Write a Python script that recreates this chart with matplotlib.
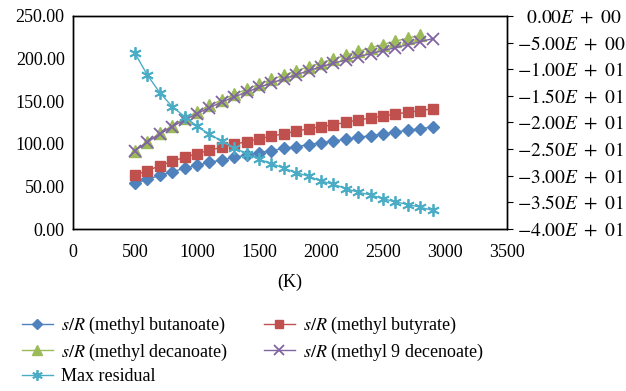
import matplotlib
matplotlib.use('Agg')
import matplotlib.pyplot as plt
from matplotlib.ticker import FuncFormatter

plt.rcParams['font.family'] = 'Liberation Serif'
plt.rcParams['mathtext.fontset'] = 'stix'

# temperatures (K)
temps = [500, 600, 700, 800, 900, 1000, 1100, 1200, 1300, 1400, 1500, 1600,
         1700, 1800, 1900, 2000, 2100, 2200, 2300, 2400, 2500, 2600, 2700, 2800, 2900]

butanoate = [53.6, 58.3, 63.0, 67.3, 71.2, 74.8, 78.3, 81.0, 84.1, 86.9, 89.6, 91.9,
             94.7, 96.6, 99.0, 101.3, 103.3, 105.3, 107.6, 109.5, 111.5, 113.8, 115.8, 117.7, 119.7]
butyrate = [63.4, 68.4, 74.3, 79.5, 84.1, 88.4, 92.4, 95.9, 99.4, 102.5, 106.0, 108.8,
            111.9, 114.7, 117.7, 120.1, 122.4, 125.2, 127.9, 130.3, 132.6, 135.0, 137.0, 138.8, 141.2]
decanoate = [92.0, 102.5, 112.5, 121.0, 130.0, 137.5, 145.0, 151.5, 158.0, 164.0, 170.0, 175.5,
             180.5, 185.5, 190.5, 195.0, 199.5, 204.0, 208.5, 212.5, 216.5, 220.5, 224.0, 227.5]
decenoate = [92.0, 102.0, 111.5, 120.0, 128.0, 135.4, 142.5, 149.0, 155.0, 160.8, 166.3, 171.4,
             176.3, 181.0, 185.8, 190.5, 194.5, 198.4, 202.2, 205.8, 209.3, 212.8, 216.3, 219.8, 223.4]
residual = [-7.0, -11.1, -14.4, -17.0, -18.9, -20.7, -22.2, -23.5, -24.7, -25.9, -26.9, -27.7,
            -28.6, -29.4, -30.1, -31.0, -31.6, -32.4, -33.1, -33.6, -34.3, -34.9, -35.4, -35.9, -36.5]

fig = plt.figure(figsize=(6.26, 3.91), dpi=100)
ax = fig.add_axes([73 / 626, 1 - 229 / 391, 434 / 626, 213 / 391])
ax2 = ax.twinx()

l1, = ax.plot(temps, butanoate, color='#4F81BD', marker='D', markersize=6, lw=1.0)
l2, = ax.plot(temps, butyrate, color='#C0504D', marker='s', markersize=7.5, lw=1.0)
l3, = ax.plot(temps[:len(decanoate)], decanoate, color='#9BBB59', marker='^', markersize=8, lw=1.0)
l4, = ax.plot(temps, decenoate, color='#8064A2', marker='x', markersize=8, mew=1.3, lw=1.0)
l5, = ax2.plot(temps, residual, color='#4BACC6', marker=(6, 2, 0), markersize=9, mew=1.3, lw=1.0)

ax.set_xlim(0, 3500)
ax.set_ylim(0, 250)
ax.set_xticks(range(0, 3501, 500))
ax.set_yticks(range(0, 251, 50))
ax.yaxis.set_major_formatter(FuncFormatter(lambda v, p: '%.2f' % v))
ax.tick_params(axis='both', length=0, labelsize=13, pad=6)
ax.tick_params(axis='x', pad=11)

ax2.set_ylim(-40, 0)
ax2.set_yticks(range(-40, 1, 5))


def sci(v, p):
    if v == 0:
        return r'$\ \ 0.00E\ +\ 00$'
    m = abs(v)
    e = 0
    while m >= 10:
        m /= 10
        e += 1
    return r'$-%.2fE\ +\ %02d$' % (m, e)


ax2.yaxis.set_major_formatter(FuncFormatter(sci))
ax2.tick_params(axis='y', length=4, direction='out', labelsize=14, pad=3)

for a in (ax, ax2):
    for s in a.spines.values():
        s.set_linewidth(1.0)
        s.set_color('black')

ax.set_xlabel('(K)', fontsize=13, labelpad=9)

# legend fills row by row in the reference
fig.legend([l1, l3, l5, l2, l4],
           [r'$s/R$ (methyl butanoate)', r'$s/R$ (methyl decanoate)', 'Max residual',
            r'$s/R$ (methyl butyrate)', r'$s/R$ (methyl 9 decenoate)'],
           ncol=2, loc='upper left', bbox_to_anchor=(22 / 626, 1 - 315 / 391),
           frameon=False, fontsize=13, handlelength=1.7, columnspacing=2.0,
           labelspacing=0.3, handletextpad=0.45, markerscale=0.85,
           borderaxespad=0, borderpad=0)

fig.savefig('out.png', dpi=100)
